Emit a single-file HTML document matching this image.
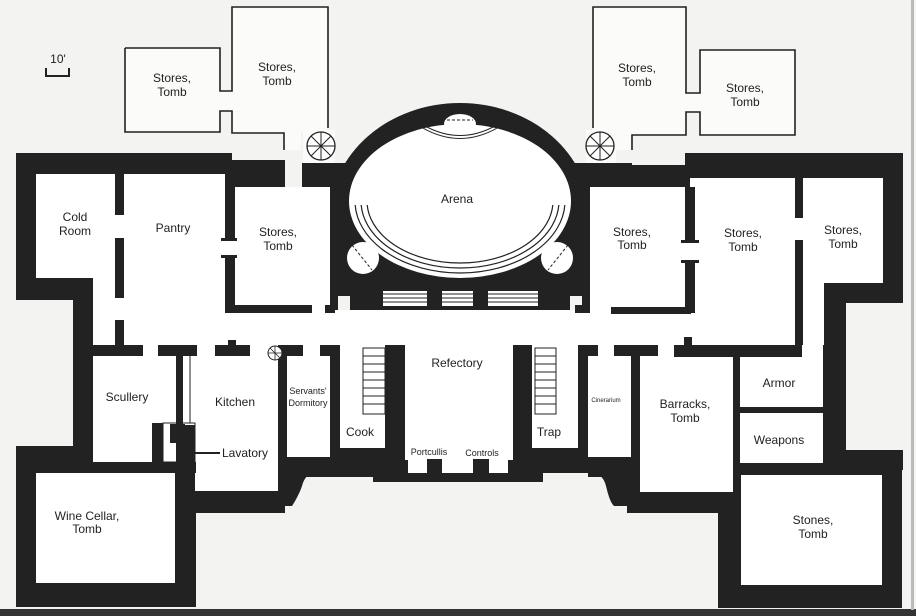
<!DOCTYPE html>
<html><head><meta charset="utf-8"><style>
html,body{margin:0;padding:0;background:#f3f3f1;}
svg{display:block;}
text{font-family:"Liberation Sans",sans-serif;fill:#222;text-anchor:middle;}
</style></head><body>
<svg width="916" height="616" viewBox="0 0 916 616" xmlns="http://www.w3.org/2000/svg">
<defs>
<clipPath id="above"><rect x="0" y="0" width="916" height="310"/></clipPath>
<clipPath id="lower"><rect x="300" y="205" width="320" height="100"/></clipPath>
</defs>
<rect width="916" height="616" fill="#f3f3f1"/>
<rect x="0" y="609" width="916" height="7" fill="#333"/>
<rect x="911" y="0" width="3" height="610" fill="#bbb"/>

<!-- scale -->
<text x="58" y="63" font-size="12">10'</text>
<path d="M46 68 V76 H69 V68" fill="none" stroke="#222" stroke-width="2"/>

<!-- upper annexes -->
<rect x="126" y="49" width="93" height="82" fill="#fbfbfa"/>
<rect x="233" y="8" width="94" height="124" fill="#fbfbfa"/>
<rect x="219" y="92" width="14" height="18" fill="#fbfbfa"/>
<rect x="285" y="130" width="16" height="35" fill="#fbfbfa"/>
<path d="M125 48 H220 V91 H232 V7 H328 V128 M125 48 V132 H220 V111 H232 V133 H284 V160" fill="none" stroke="#222" stroke-width="1.6"/>
<rect x="594" y="8" width="91" height="126" fill="#fbfbfa"/>
<rect x="701" y="51" width="93" height="83" fill="#fbfbfa"/>
<rect x="685" y="94" width="16" height="17" fill="#fbfbfa"/>
<rect x="616" y="133" width="15" height="32" fill="#fbfbfa"/>
<path d="M593 128 V7 H686 V93 H700 V50 H795 V135 H700 V112 H686 V135 H632 V165" fill="none" stroke="#222" stroke-width="1.6"/>

<!-- main dark footprint -->
<rect x="16" y="153" width="887" height="317" fill="#222"/>
<rect x="16" y="446" width="180" height="161" fill="#222"/>
<rect x="718" y="450" width="184" height="158" fill="#222"/>
<rect x="175" y="460" width="560" height="53" fill="#222"/>
<g fill="#f3f3f1">
<rect x="16" y="300" width="57" height="146"/>
<rect x="232" y="150" width="70" height="10"/>
<rect x="285" y="150" width="17" height="37"/>
<rect x="302" y="150" width="330" height="13"/>
<rect x="632" y="150" width="53" height="15"/>
<rect x="846" y="303" width="58" height="147"/>
<path d="M285 513 V506 H292 C296 500 300 492 302 486 C304 478 308 474 314 473 H373 V482 H543 V473 H592 C600 474 604 478 606 486 C608 494 610 502 614 506 H627 V513 Z"/>
<rect x="196" y="513" width="522" height="96"/>
</g>

<!-- arena -->
<g clip-path="url(#above)">
<ellipse cx="460" cy="216" rx="130" ry="113" fill="#222"/>
</g>
<rect x="302" y="163" width="330" height="24" fill="#222"/>
<rect x="330" y="163" width="260" height="147" fill="#222"/>
<ellipse cx="460" cy="201" rx="111" ry="77" fill="#fff"/>
<circle cx="363" cy="258" r="16" fill="#fff"/>
<circle cx="557" cy="258" r="16" fill="#fff"/>
<ellipse cx="460" cy="124" rx="16" ry="10" fill="#fff"/>
<line x1="447" y1="120" x2="473" y2="120" stroke="#222" stroke-dasharray="3,2"/>
<g fill="none" stroke="#222" stroke-width="1.2" clip-path="url(#lower)">
<ellipse cx="460" cy="201" rx="105" ry="72"/>
<ellipse cx="460" cy="201" rx="99" ry="67"/>
<ellipse cx="460" cy="201" rx="93" ry="62"/>
</g>
<g fill="none" stroke="#222" stroke-width="1">
<path d="M421 127 Q460 150 499 127"/>
<path d="M427 127 Q460 144 493 127"/>
</g>
<line x1="352" y1="245" x2="372" y2="270" stroke="#222" stroke-dasharray="3,2"/>
<line x1="568" y1="245" x2="548" y2="270" stroke="#222" stroke-dasharray="3,2"/>
<rect x="383" y="291" width="155" height="15" fill="#fff"/>
<g stroke="#222" stroke-width="1">
<line x1="383" y1="294" x2="538" y2="294"/><line x1="383" y1="298" x2="538" y2="298"/><line x1="383" y1="302" x2="538" y2="302"/>
</g>
<rect x="427" y="287" width="15" height="23" fill="#222"/>
<rect x="473" y="287" width="15" height="23" fill="#222"/>
<rect x="338" y="296" width="12" height="14" fill="#f3f3f1"/>
<rect x="570" y="296" width="12" height="14" fill="#f3f3f1"/>

<!-- spiral stairs -->
<rect x="303" y="130" width="32" height="33" fill="#fbfbfa"/>
<rect x="586" y="130" width="30" height="33" fill="#fbfbfa"/>
<g fill="#fff" stroke="#222" stroke-width="1.3">
<circle cx="321" cy="146" r="14"/><circle cx="600" cy="146" r="14"/>
</g>
<g stroke="#222" stroke-width="1">
<path d="M307 146H335M321 132V160M311 136L331 156M331 136L311 156"/>
<path d="M586 146H614M600 132V160M590 136L610 156M610 136L590 156"/>
</g>

<!-- rooms -->
<g fill="#fff">
<rect x="36" y="174" width="80" height="104"/>
<rect x="93" y="278" width="31" height="35"/>
<rect x="116" y="174" width="114" height="139"/>
<rect x="230" y="187" width="100" height="126"/>
<rect x="93" y="310" width="702" height="35"/>
<rect x="590" y="187" width="100" height="126"/>
<rect x="690" y="178" width="105" height="167"/>
<rect x="795" y="178" width="88" height="105"/>
<rect x="802" y="283" width="22" height="167"/>
<rect x="93" y="345" width="83" height="117"/>
<rect x="176" y="345" width="102" height="80"/>
<rect x="195" y="345" width="83" height="146"/>
<rect x="287" y="345" width="43" height="112"/>
<rect x="340" y="345" width="45" height="103"/>
<rect x="405" y="345" width="108" height="115"/>
<rect x="408" y="458" width="100" height="15"/>
<rect x="532" y="345" width="46" height="103"/>
<rect x="588" y="345" width="43" height="112"/>
<rect x="640" y="345" width="93" height="147"/>
<rect x="740" y="357" width="83" height="106"/>
<rect x="36" y="473" width="139" height="110"/>
<rect x="741" y="475" width="141" height="110"/>
</g>

<!-- walls -->
<g fill="#222">
<rect x="115" y="174" width="9" height="41"/>
<rect x="115" y="238" width="9" height="60"/>
<rect x="115" y="320" width="9" height="25"/>
<rect x="225" y="174" width="10" height="66"/>
<rect x="221" y="238" width="16" height="3"/>
<rect x="221" y="255" width="16" height="3"/>
<rect x="225" y="255" width="10" height="53"/>
<rect x="225" y="305" width="87" height="8"/>
<rect x="325" y="305" width="6" height="8"/>
<rect x="330" y="187" width="5" height="126"/>
<rect x="585" y="187" width="5" height="126"/>
<rect x="575" y="305" width="10" height="8"/>
<rect x="611" y="307" width="80" height="7"/>
<rect x="685" y="187" width="10" height="53"/>
<rect x="681" y="240" width="18" height="3"/>
<rect x="681" y="260" width="18" height="3"/>
<rect x="685" y="260" width="10" height="53"/>
<rect x="795" y="178" width="8" height="40"/>
<rect x="795" y="240" width="8" height="105"/>
<rect x="824" y="283" width="60" height="20"/>
<rect x="93" y="345" width="50" height="11"/>
<rect x="158" y="345" width="39" height="11"/>
<rect x="215" y="345" width="35" height="11"/>
<rect x="228" y="340" width="8" height="6"/>
<rect x="285" y="345" width="18" height="11"/>
<rect x="320" y="345" width="20" height="11"/>
<rect x="330" y="345" width="10" height="75"/>
<rect x="330" y="445" width="10" height="20"/>
<rect x="385" y="345" width="20" height="130"/>
<rect x="513" y="345" width="19" height="130"/>
<rect x="578" y="345" width="10" height="125"/>
<rect x="578" y="345" width="20" height="11"/>
<rect x="614" y="345" width="44" height="11"/>
<rect x="631" y="345" width="9" height="125"/>
<rect x="674" y="345" width="127" height="12"/>
<rect x="684" y="337" width="8" height="9"/>
<rect x="733" y="357" width="7" height="23"/>
<rect x="733" y="388" width="7" height="44"/>
<rect x="733" y="442" width="7" height="30"/>
<rect x="740" y="407" width="83" height="6"/>
<rect x="823" y="345" width="2" height="105"/>
<rect x="740" y="463" width="162" height="12"/>
<rect x="176" y="355" width="7" height="70"/>
<rect x="170" y="424" width="15" height="19"/>
<rect x="152" y="423" width="11" height="39"/>
<rect x="93" y="462" width="103" height="11"/>
<rect x="278" y="355" width="9" height="137"/>
<rect x="287" y="457" width="100" height="20"/>
<rect x="340" y="448" width="45" height="20"/>
<rect x="532" y="448" width="46" height="20"/>
<rect x="588" y="457" width="45" height="20"/>
<rect x="427" y="459" width="15" height="14"/>
<rect x="473" y="459" width="16" height="14"/>
<rect x="405" y="473" width="108" height="9"/>
</g>
<line x1="190" y1="356" x2="190" y2="423" stroke="#222" stroke-width="1"/>
<rect x="163" y="423" width="32" height="39" fill="none" stroke="#222" stroke-width="1"/>
<line x1="178" y1="453" x2="220" y2="453" stroke="#222" stroke-width="2"/>
<g fill="#fff" stroke="#222" stroke-width="1">
<rect x="363" y="348" width="22" height="66"/>
<rect x="535" y="348" width="21" height="66"/>
</g>
<g stroke="#222" stroke-width="1">
<path d="M363 356H385M363 364H385M363 372H385M363 380H385M363 388H385M363 396H385M363 404H385"/>
<path d="M535 356H556M535 364H556M535 372H556M535 380H556M535 388H556M535 396H556M535 404H556"/>
</g>
<circle cx="275" cy="353" r="7" fill="#fff" stroke="#222"/>
<path d="M268 353H282M275 346V360M270 348L280 358" stroke="#222" stroke-width="0.8"/>

<!-- labels -->
<g font-size="12">
<text x="172" y="82">Stores,</text><text x="172" y="96">Tomb</text>
<text x="277" y="71">Stores,</text><text x="277" y="85">Tomb</text>
<text x="637" y="72">Stores,</text><text x="637" y="86">Tomb</text>
<text x="745" y="92">Stores,</text><text x="745" y="106">Tomb</text>
<text x="75" y="221">Cold</text><text x="75" y="235">Room</text>
<text x="173" y="232">Pantry</text>
<text x="278" y="236">Stores,</text><text x="278" y="250">Tomb</text>
<text x="457" y="203">Arena</text>
<text x="632" y="236">Stores,</text><text x="632" y="249">Tomb</text>
<text x="743" y="237">Stores,</text><text x="743" y="251">Tomb</text>
<text x="843" y="234">Stores,</text><text x="843" y="248">Tomb</text>
<text x="127" y="401">Scullery</text>
<text x="235" y="406">Kitchen</text>
<text x="360" y="436">Cook</text>
<text x="457" y="367">Refectory</text>
<text x="549" y="436">Trap</text>
<text x="685" y="408">Barracks,</text><text x="685" y="422">Tomb</text>
<text x="779" y="387">Armor</text>
<text x="779" y="444">Weapons</text>
<text x="245" y="457">Lavatory</text>
<text x="87" y="520">Wine Cellar,</text><text x="87" y="533">Tomb</text>
<text x="813" y="524">Stones,</text><text x="813" y="538">Tomb</text>
</g>
<g font-size="9">
<text x="308" y="394">Servants'</text><text x="308" y="406">Dormitory</text>
<text x="429" y="455">Portcullis</text>
<text x="482" y="456">Controls</text>
</g>
<text x="606" y="402" font-size="6">Cinerarium</text>
</svg>
</body></html>
